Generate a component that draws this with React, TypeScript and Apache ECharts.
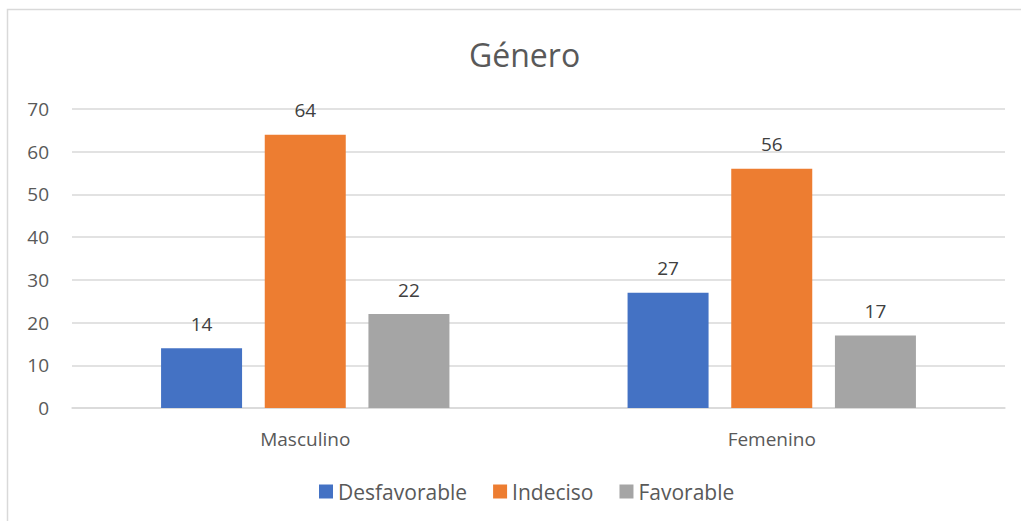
import React, { useEffect, useRef } from "react";
import * as echarts from "echarts";

const categories = ["Masculino", "Femenino"];
const seriesNames = ["Desfavorable", "Indeciso", "Favorable"];
const desfavorable = [14, 27];
const indeciso = [64, 56];
const favorable = [22, 17];
const colors = ["#4472C4", "#ED7D31", "#A5A5A5"];
const FONT = "'Open Sans', sans-serif";

export default function App() {
  const ref = useRef<HTMLDivElement>(null);
  useEffect(() => {
    document.body.style.margin = "0";
    const chart = echarts.init(ref.current!, null, { renderer: "svg" });
    const values = [desfavorable, indeciso, favorable];
    chart.setOption({
      animation: false,
      backgroundColor: "#ffffff",
      title: {
        text: "Género",
        left: 464,
        top: 33,
        textStyle: { fontFamily: FONT, fontSize: 32, fontWeight: "normal", color: "#595959" },
      },
      graphic: [
        {
          type: "rect",
          shape: { x: 7.5, y: 9.5, width: 1030, height: 530 },
          style: { fill: "none", stroke: "#D9D9D9", lineWidth: 1.5 },
          silent: true,
        },
      ],
      legend: {
        data: seriesNames,
        bottom: 14,
        left: 314,
        itemWidth: 14,
        itemHeight: 14,
        itemGap: 26,
        icon: "rect",
        textStyle: { fontFamily: FONT, fontSize: 21, color: "#595959" },
      },
      grid: { left: 72, right: 16, top: 109, bottom: 113, containLabel: false },
      xAxis: {
        type: "category",
        data: categories,
        axisLine: { lineStyle: { color: "#D9D9D9", width: 1.5 } },
        axisTick: { show: false },
        axisLabel: { fontFamily: FONT, fontSize: 19, color: "#595959", margin: 21 },
      },
      yAxis: {
        type: "value",
        min: 0,
        max: 70,
        interval: 10,
        axisLine: { show: false },
        axisTick: { show: false },
        splitLine: { lineStyle: { color: "#D9D9D9", width: 1.5 } },
        axisLabel: { fontFamily: FONT, fontSize: 19, color: "#595959", margin: 23 },
      },
      series: seriesNames.map((name, i) => ({
        name,
        type: "bar",
        data: values[i],
        barWidth: 81,
        barGap: "28%",
        itemStyle: { color: colors[i] },
        label: {
          show: true,
          position: "top",
          distance: 15,
          fontFamily: FONT,
          fontSize: 19,
          color: "#404040",
        },
      })),
    });
    return () => chart.dispose();
  }, []);
  return <div ref={ref} style={{ width: 1021, height: 521 }} />;
}
